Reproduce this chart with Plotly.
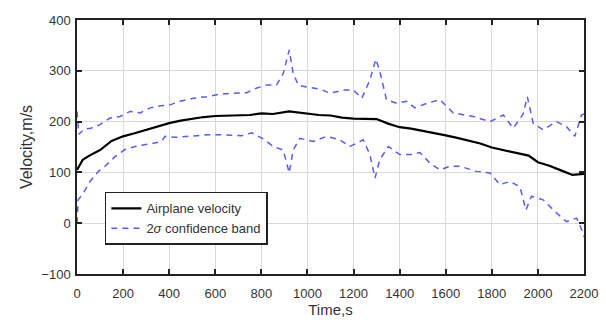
import plotly.graph_objects as go

vel_t = [0, 25, 50, 100, 150, 200, 250, 300, 350, 400, 450, 500, 550, 600, 650, 700, 750, 800, 850, 920,
         1000, 1050, 1100, 1150, 1200, 1250, 1300, 1350, 1400, 1450, 1500, 1550, 1600, 1650, 1700, 1750,
         1800, 1850, 1900, 1960, 2000, 2050, 2100, 2150, 2200]
vel_v = [105, 125, 132, 144, 162, 171, 177, 184, 190, 197, 202, 206, 209, 211, 212, 213, 213, 216, 215, 220,
         216, 213, 212, 208, 206, 206, 205, 196, 189, 186, 182, 177, 173, 168, 163, 157,
         149, 144, 139, 133, 120, 113, 104, 95, 97]

upper_t = [0, 8, 30, 60, 100, 143, 187, 230, 273, 317, 360, 403, 447, 505, 562, 620, 678, 736, 780, 823,
           866, 895, 921, 938, 960, 996, 1054, 1098, 1155, 1199, 1236, 1271, 1297, 1314, 1343, 1387, 1430,
           1466, 1517, 1575, 1633, 1720, 1792, 1850, 1893, 1936, 1954, 1980, 2023, 2081, 2124, 2160, 2189, 2200]
upper_v = [220, 175, 185, 187, 194, 207, 210, 220, 217, 227, 231, 233, 240, 246, 249, 254, 256, 257, 266, 272,
           272, 295, 341, 295, 272, 268, 264, 256, 262, 262, 246, 282, 323, 299, 243, 236, 240,
           227, 236, 243, 217, 210, 200, 213, 187, 215, 249, 196, 184, 200, 190, 171, 213, 215]

lower_t = [0, 5, 27, 56, 93, 121, 165, 208, 252, 295, 338, 367, 382, 425, 497, 570, 642, 714, 758, 808,
           852, 895, 921, 938, 967, 1025, 1083, 1141, 1184, 1242, 1271, 1293, 1314, 1351, 1401, 1444, 1488,
           1532, 1575, 1618, 1662, 1734, 1792, 1835, 1879, 1922, 1948, 1972, 2023, 2081, 2124, 2168, 2197, 2200]
lower_v = [0, 46, 59, 82, 102, 112, 131, 145, 151, 154, 158, 161, 171, 169, 172, 174, 174, 172, 178, 166,
           151, 144, 99, 144, 167, 161, 171, 164, 151, 164, 135, 89, 125, 151, 135, 135, 139,
           118, 105, 112, 112, 102, 99, 76, 82, 72, 26, 53, 46, 20, 3, 10, -20, -27]

x_ticks = [0, 200, 400, 600, 800, 1000, 1200, 1400, 1600, 1800, 2000, 2200]
y_ticks = [-100, 0, 100, 200, 300, 400]

band_color = "rgb(90,90,255)"
FONT = "Liberation Sans, Arial"

fig = go.Figure()
fig.add_trace(go.Scatter(x=vel_t, y=vel_v, mode="lines", name="Airplane velocity",
                         line=dict(color="black", width=2.2)))
fig.add_trace(go.Scatter(x=upper_t, y=upper_v, mode="lines", name="2<i>σ</i> confidence band",
                         line=dict(color=band_color, width=1.5, dash="6px,5px")))
fig.add_trace(go.Scatter(x=lower_t, y=lower_v, mode="lines", showlegend=False,
                         line=dict(color=band_color, width=1.5, dash="6px,5px")))

axis_common = dict(showline=True, linecolor="#222", linewidth=1.5, mirror="ticks",
                   ticks="inside", ticklen=5, tickwidth=1.5, tickcolor="#222",
                   showgrid=True, gridcolor="#d9d9d9", gridwidth=1, zeroline=False,
                   automargin=False,
                   tickfont=dict(family=FONT, size=13, color="#333"))

fig.update_xaxes(range=[0, 2200], tickvals=x_ticks, ticklabelstandoff=7,
                 title=dict(text="Time,s", standoff=4,
                            font=dict(family=FONT, size=15, color="#333")),
                 **axis_common)
fig.update_yaxes(range=[-100, 400], tickvals=y_ticks, ticklabelstandoff=2,
                 title=dict(text="Velocity,m/s", standoff=5,
                            font=dict(family=FONT, size=16, color="#333")),
                 **axis_common)

fig.update_layout(
    width=606, height=323,
    margin=dict(l=77, r=22, t=20, b=49, autoexpand=False),
    plot_bgcolor="white", paper_bgcolor="white",
    legend=dict(x=0.055, y=0.323, xanchor="left", yanchor="top",
                bgcolor="white", bordercolor="#222", borderwidth=1.5,
                font=dict(family=FONT, size=13, color="#333"),
                tracegroupgap=0, itemwidth=30),
)

fig.write_html("out.html")
